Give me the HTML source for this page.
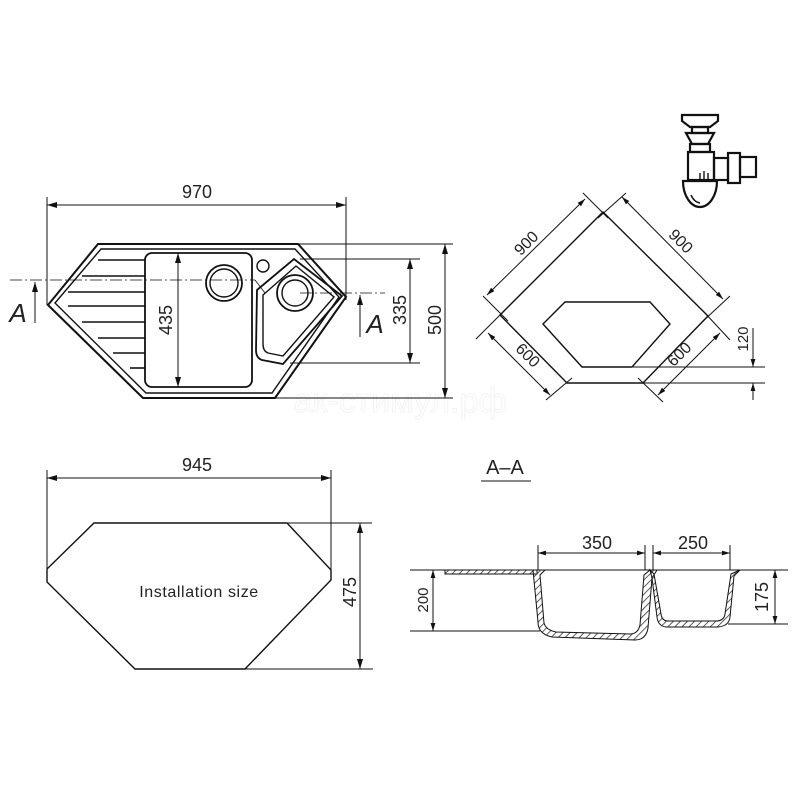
<!DOCTYPE html>
<html><head><meta charset="utf-8"><style>
html,body{margin:0;padding:0;background:#fff}
svg{display:block}
text{font-family:"Liberation Sans",sans-serif;fill:#222}
</style></head><body>
<svg width="800" height="800" viewBox="0 0 800 800" xmlns="http://www.w3.org/2000/svg">
<defs>
<marker id="ar" viewBox="0 0 10 6" refX="10" refY="3" markerWidth="10" markerHeight="6" orient="auto-start-reverse" markerUnits="userSpaceOnUse"><path d="M0,0 L10,3 L0,6 Z" fill="#111"/></marker>
<marker id="as" viewBox="0 0 10 6" refX="10" refY="3" markerWidth="8" markerHeight="5" orient="auto-start-reverse" markerUnits="userSpaceOnUse"><path d="M0,0 L10,3 L0,6 Z" fill="#111"/></marker>
<pattern id="h" width="5" height="5" patternUnits="userSpaceOnUse" patternTransform="rotate(45)"><line x1="0" y1="0" x2="0" y2="5" stroke="#333" stroke-width="1.6"/></pattern>
</defs>

<!-- watermark -->
<text x="400" y="412" font-size="34" text-anchor="middle" stroke="#f3f3f3" stroke-width="1" style="fill:none">ак-стимул.рф</text>

<!-- TOP SINK -->
<g stroke="#111" fill="none" stroke-width="1">
<line x1="47" y1="197" x2="47" y2="305"/><line x1="346" y1="197" x2="346" y2="300"/>
<line x1="47" y1="205" x2="346" y2="205" marker-start="url(#ar)" marker-end="url(#ar)"/>
<polygon points="98,244 298,244 346,297 275,398 143,398 48,305" stroke-width="2"/>
<polygon points="101,249 295,249 339,297 272,393 146,393 55,303" stroke-width="1.4"/>
<rect x="145" y="253" width="107" height="134" rx="7" stroke-width="1.8"/>
<circle cx="224" cy="283" r="18" stroke-width="1.8"/><circle cx="224" cy="283" r="14" stroke-width="1.4"/>
<circle cx="263" cy="266" r="6" stroke-width="1.4"/>
<path d="M257,290 L294,259 L342,296 L283,364 L262,360 Q256,358 256,350 Z" stroke-width="1.8"/>
<path d="M263,295 L296,266 L334,297 L283,356 L268,353 Q263,351 263,344 Z" stroke-width="1.4"/>
<circle cx="295" cy="293" r="18" stroke-width="1.8"/><circle cx="295" cy="293" r="13" stroke-width="1.4"/>
<g stroke-width="1.6">
<line x1="98" y1="260" x2="145" y2="260"/><line x1="82" y1="276" x2="145" y2="276"/>
<line x1="68" y1="292" x2="145" y2="292"/><line x1="68" y1="306" x2="145" y2="306"/>
<line x1="82" y1="322" x2="145" y2="322"/><line x1="98" y1="338" x2="145" y2="338"/>
<line x1="113" y1="353" x2="145" y2="353"/><line x1="130" y1="368" x2="145" y2="368"/>
</g>
<line x1="10" y1="280" x2="255" y2="280" stroke-dasharray="12,3,2,3" stroke-width="0.8"/>
<line x1="255" y1="280" x2="265" y2="293" stroke-width="0.8"/>
<line x1="300" y1="293" x2="385" y2="293" stroke-dasharray="12,3,2,3" stroke-width="0.8"/>
<line x1="35" y1="323" x2="35" y2="282" marker-end="url(#ar)"/>
<line x1="360" y1="337" x2="360" y2="295" marker-end="url(#ar)"/>
<line x1="300" y1="259" x2="420" y2="259"/><line x1="290" y1="363" x2="420" y2="363"/>
<line x1="410" y1="259" x2="410" y2="363" marker-start="url(#ar)" marker-end="url(#ar)"/>
<line x1="298" y1="244" x2="453" y2="244"/><line x1="275" y1="398" x2="453" y2="398"/>
<line x1="445" y1="244" x2="445" y2="398" marker-start="url(#ar)" marker-end="url(#ar)"/>
<line x1="178" y1="253" x2="178" y2="387" marker-start="url(#ar)" marker-end="url(#ar)"/>
</g>
<text x="197" y="198" font-size="18" text-anchor="middle">970</text>
<text x="18" y="322" font-size="26" font-style="italic" text-anchor="middle">A</text>
<text x="375" y="333" font-size="26" font-style="italic" text-anchor="middle">A</text>
<text transform="translate(406,310) rotate(-90)" font-size="18" text-anchor="middle">335</text>
<text transform="translate(441,320) rotate(-90)" font-size="18" text-anchor="middle">500</text>
<text transform="translate(172,320) rotate(-90)" font-size="18" text-anchor="middle">435</text>

<!-- CORNER PLAN -->
<g stroke="#111" fill="none" stroke-width="1">
<polygon points="603,212 708,316 643,383 567,383 500,315" stroke-width="1.4"/>
<polygon points="565,302 650,302 670,324 632,367 582,367 543,324" stroke-width="1.4"/>
<line x1="583" y1="193" x2="608" y2="218"/><line x1="483" y1="296" x2="508" y2="321"/>
<line x1="487" y1="295" x2="585" y2="199" marker-start="url(#as)" marker-end="url(#as)"/>
<line x1="626" y1="193" x2="598" y2="218"/><line x1="730" y1="296" x2="702" y2="322"/>
<line x1="622" y1="197" x2="723" y2="299" marker-start="url(#as)" marker-end="url(#as)"/>
<line x1="476" y1="339" x2="505" y2="310"/><line x1="546" y1="400" x2="572" y2="378"/>
<line x1="488" y1="333" x2="550" y2="395" marker-start="url(#as)" marker-end="url(#as)"/>
<line x1="663" y1="402" x2="638" y2="378"/><line x1="730" y1="340" x2="704" y2="312"/>
<line x1="658" y1="395" x2="720" y2="333" marker-start="url(#as)" marker-end="url(#as)"/>
<line x1="633" y1="367" x2="765" y2="367"/><line x1="643" y1="383" x2="765" y2="383"/>
<line x1="753" y1="328" x2="753" y2="367" marker-end="url(#as)"/>
<line x1="753" y1="400" x2="753" y2="383" marker-end="url(#as)"/>
</g>
<text transform="translate(530,247) rotate(-45)" font-size="16" text-anchor="middle">900</text>
<text transform="translate(677,245) rotate(45)" font-size="16" text-anchor="middle">900</text>
<text transform="translate(524,359) rotate(45)" font-size="16" text-anchor="middle">600</text>
<text transform="translate(683,358) rotate(-45)" font-size="16" text-anchor="middle">600</text>
<text transform="translate(748,339) rotate(-90)" font-size="15" text-anchor="middle">120</text>

<!-- siphon -->
<g stroke="#111" fill="none" stroke-width="2.2">
<path d="M682,115 H718 V121 L710,127 H690 L682,121 Z"/>
<path d="M686,133 H714 L708,144 H692 Z"/>
<rect x="692" y="127" width="16" height="6"/>
<rect x="690" y="144" width="20" height="8"/>
<rect x="688" y="152" width="26" height="28"/>
<rect x="714" y="158" width="14" height="22"/>
<rect x="728" y="153" width="12" height="30"/>
<rect x="740" y="157" width="16" height="20"/>
<path d="M683,181 H717 A17,26 0 0 1 683,181 Z"/>
<path d="M691,195 Q694,202 700,203" stroke-width="1.5"/>
<path d="M700,173 V180 M704,171 V180 M708,173 V180" stroke-width="1.4"/>
</g>

<!-- INSTALLATION SIZE -->
<g stroke="#111" fill="none" stroke-width="1">
<polygon points="94,523 287,523 331,570 331,580 245,669 135,669 47,582 47,569" stroke-width="1.4"/>
<line x1="47" y1="470" x2="47" y2="575"/><line x1="331" y1="470" x2="331" y2="570"/>
<line x1="47" y1="478" x2="331" y2="478" marker-start="url(#ar)" marker-end="url(#ar)"/>
<line x1="287" y1="523" x2="372" y2="523"/><line x1="245" y1="669" x2="373" y2="669"/>
<line x1="360" y1="523" x2="360" y2="669" marker-start="url(#ar)" marker-end="url(#ar)"/>
</g>
<text x="197" y="471" font-size="18" text-anchor="middle">945</text>
<text transform="translate(356,592) rotate(-90)" font-size="18" text-anchor="middle">475</text>
<text x="199" y="597" font-size="16" letter-spacing="0.6" text-anchor="middle">Installation size</text>

<!-- SECTION A-A -->
<text x="505" y="474" font-size="20" text-anchor="middle">A–A</text>
<line x1="481" y1="481" x2="531" y2="481" stroke="#111" stroke-width="1"/>
<g stroke="#111" stroke-width="1" fill="none">
<line x1="410" y1="570" x2="788" y2="570"/>
<line x1="410" y1="631" x2="540" y2="631"/>
<line x1="728" y1="624" x2="788" y2="624"/>
<rect x="445" y="570" width="92" height="4" fill="url(#h)"/>
<path d="M533,570 H545 L540,575 L544,623 Q546,630 556,632 L630,634 Q638,634 640,625 L644,575 L650,570 H657 L652,578 L648,628 Q646,640 635,640 L552,637 Q538,634 538,622 Z" fill="url(#h)"/>
<path d="M650,570 L654,574 L661,614 Q662,621 668,621 L716,621 Q724,621 725,614 L731,574 L740,570 L734,576 L730,617 Q729,626 718,627 L666,627 Q658,626 657,617 L652,578 Z" fill="url(#h)"/>
<line x1="538" y1="545" x2="538" y2="570"/><line x1="645" y1="545" x2="645" y2="570"/>
<line x1="538" y1="553" x2="645" y2="553" marker-start="url(#as)" marker-end="url(#as)"/>
<line x1="653" y1="545" x2="653" y2="570"/><line x1="730" y1="545" x2="730" y2="570"/>
<line x1="653" y1="553" x2="730" y2="553" marker-start="url(#as)" marker-end="url(#as)"/>
<line x1="433" y1="570" x2="433" y2="631" marker-start="url(#as)" marker-end="url(#as)"/>
<line x1="775" y1="570" x2="775" y2="624" marker-start="url(#as)" marker-end="url(#as)"/>
</g>
<text x="597" y="549" font-size="18" text-anchor="middle">350</text>
<text x="693" y="549" font-size="18" text-anchor="middle">250</text>
<text transform="translate(428,600) rotate(-90)" font-size="15" text-anchor="middle">200</text>
<text transform="translate(768,597) rotate(-90)" font-size="18" text-anchor="middle">175</text>
</svg>
</body></html>
